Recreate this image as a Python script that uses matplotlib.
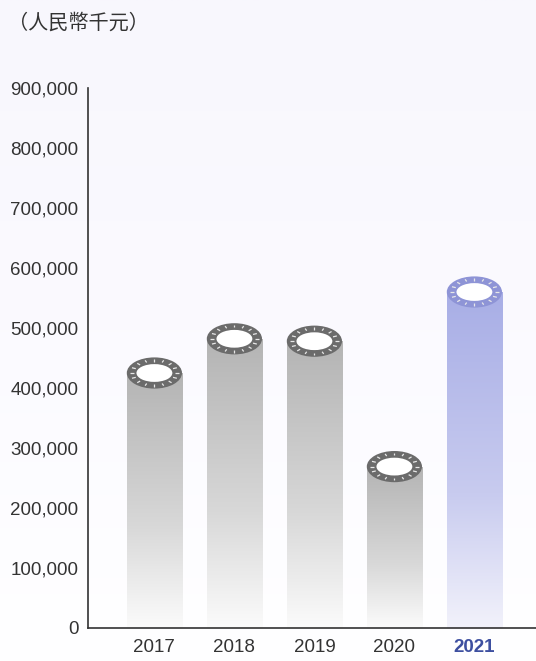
import numpy as np
import matplotlib.pyplot as plt
from matplotlib.patches import Ellipse, Rectangle
from matplotlib.colors import LinearSegmentedColormap

years = ["2017", "2018", "2019", "2020", "2021"]
values = [425000, 482000, 478000, 269000, 560000]
yticks = [0, 100000, 200000, 300000, 400000, 500000, 600000, 700000, 800000, 900000]
unit_label = "（人民幣千元）"

plt.rcParams['font.family'] = ['Liberation Sans', 'DejaVu Sans']

fig = plt.figure(figsize=(5.36, 6.61), dpi=100)

# faint lavender background
bg = fig.add_axes([0, 0, 1, 1], zorder=-10)
grad = np.linspace(0, 1, 256).reshape(-1, 1)
bg_cmap = LinearSegmentedColormap.from_list("bg", ["#f8f7fd", "#fbfaff", "#ffffff"])
bg.imshow(grad, cmap=bg_cmap, aspect='auto', extent=[0, 1, 0, 1])
bg.set_axis_off()

ax = fig.add_axes([88/536, 33/661, 448/536, 540/661])
ax.patch.set_alpha(0)

w = 0.69
eh = 52000
gray_cmap = LinearSegmentedColormap.from_list("g", [(0, "#fbfbfb"), (0.4, "#d8d8d8"), (1, "#b4b4b4")])
blue_cmap = LinearSegmentedColormap.from_list("b", [(0, "#f2f2fb"), (0.4, "#c8cbef"), (1, "#a8aee6")])

for i, (yr, v) in enumerate(zip(years, values)):
    last = (i == len(years) - 1)
    cmap = blue_cmap if last else gray_cmap
    ring = "#8e94d6" if last else "#6b6b6b"
    g = np.linspace(0, 1, 256).reshape(-1, 1)
    im = ax.imshow(g, cmap=cmap, origin='lower', aspect='auto',
                   extent=[i - w/2, i + w/2, 0, v], zorder=2)
    clip = Rectangle((i - w/2, 0), w, v, transform=ax.transData, facecolor='none', edgecolor='none')
    ax.add_patch(clip)
    im.set_clip_path(clip)
    ax.add_patch(Ellipse((i, v), w, eh, facecolor=ring, edgecolor='none', zorder=3))
    ax.add_patch(Ellipse((i, v), w * 0.65, eh * 0.57, facecolor='white', edgecolor='none', zorder=4))
    for th in np.linspace(0, 2*np.pi, 16, endpoint=False):
        r0, r1 = 0.73, 0.88
        ax.plot([i + r0*w/2*np.cos(th), i + r1*w/2*np.cos(th)],
                [v + r0*eh/2*np.sin(th), v + r1*eh/2*np.sin(th)],
                color='#e8e8e8', lw=0.9, zorder=4, solid_capstyle='butt')

ax.set_xlim(-0.83, 4.77)
ax.set_ylim(0, 900000)
ax.set_xticks(range(len(years)))
ax.set_xticklabels(years)
ax.set_yticks(yticks)
ax.set_yticklabels([f"{t:,}" for t in yticks])
ax.tick_params(length=0, labelsize=13.5, labelcolor='#333333')
ax.tick_params(axis='x', pad=8)
ax.tick_params(axis='y', pad=7)
lbl = ax.get_xticklabels()[-1]
lbl.set_color('#3d4fa0')
lbl.set_fontweight('bold')
for s in ['top', 'right']:
    ax.spines[s].set_visible(False)
for s in ['left', 'bottom']:
    ax.spines[s].set_color('#333333')
    ax.spines[s].set_linewidth(1.2)

fig.text(8/536, 1 - 23/661, unit_label, fontsize=14.5, color='#333333', va='center', ha='left',
         family=['Noto Sans CJK TC', 'DejaVu Sans'])

fig.savefig("out.png", dpi=100)
